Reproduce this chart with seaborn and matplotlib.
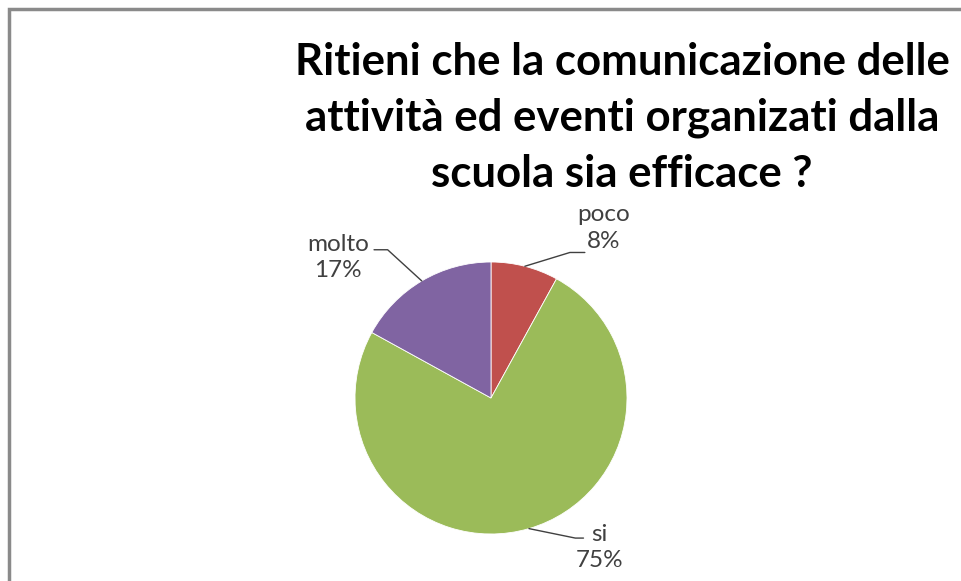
import matplotlib
matplotlib.use("Agg")
import matplotlib.pyplot as plt
import seaborn as sns
import numpy as np
from matplotlib.patches import Rectangle

categories = ["poco", "si", "molto"]
values = [8, 75, 17]
colors = ["#C0504D", "#9BBB59", "#8064A2"]
title = "Ritieni che la comunicazione delle\nattività ed eventi organizati dalla\nscuola sia efficace ?"

sns.set_theme(style="white")
plt.rcParams['font.family'] = ['Lato', 'DejaVu Sans']
palette = sns.color_palette(colors)

W, H = 962, 581
fig = plt.figure(figsize=(W/100, H/100), dpi=100)
fig.patch.set_facecolor("white")

cx, cy, r = 491, 398, 136
ax = fig.add_axes([(cx - r)/W, (H - cy - r)/H, 2*r/W, 2*r/H])
wedges, _ = ax.pie(values, colors=palette, startangle=90, counterclock=False,
                   radius=1, wedgeprops=dict(edgecolor="white", linewidth=0.6))
ax.set_xlim(-1, 1)
ax.set_ylim(-1, 1)
ax.set_aspect("equal")
ax.axis("off")

# label positions (in pie radii units) and elbow points
label_pos = {"poco": (0.83, 1.25), "si": (0.80, -1.10), "molto": (-1.125, 1.03)}
elbows = {"poco": [(0.58, 1.07), (0.69, 1.07)],
          "si": [(0.62, -1.03), (0.68, -1.03)],
          "molto": [(-0.76, 1.09), (-0.86, 1.09)]}
for w, cat, v in zip(wedges, categories, values):
    ang = np.deg2rad((w.theta1 + w.theta2) / 2)
    sx, sy = np.cos(ang), np.sin(ang)
    pts = [(sx, sy)] + elbows[cat]
    xs, ys = zip(*pts)
    ax.plot(xs, ys, color="#404040", lw=1.0, clip_on=False)
    lx, ly = label_pos[cat]
    ax.text(lx, ly, f"{cat}\n{v}%", ha="center", va="center", fontsize=17.5,
            color="#404040", linespacing=1.3, clip_on=False)

fig.text(622/W, 1 - 118/H, title, ha="center", va="center", fontsize=31.5,
         fontweight="bold", color="black", linespacing=1.48)

fig.add_artist(Rectangle((9/W, -0.2), 1.2, 1 - 9/H + 0.2, transform=fig.transFigure,
                         fill=False, edgecolor="#8a8a8a", linewidth=2.5))

fig.savefig("out.png", dpi=100, facecolor="white")
